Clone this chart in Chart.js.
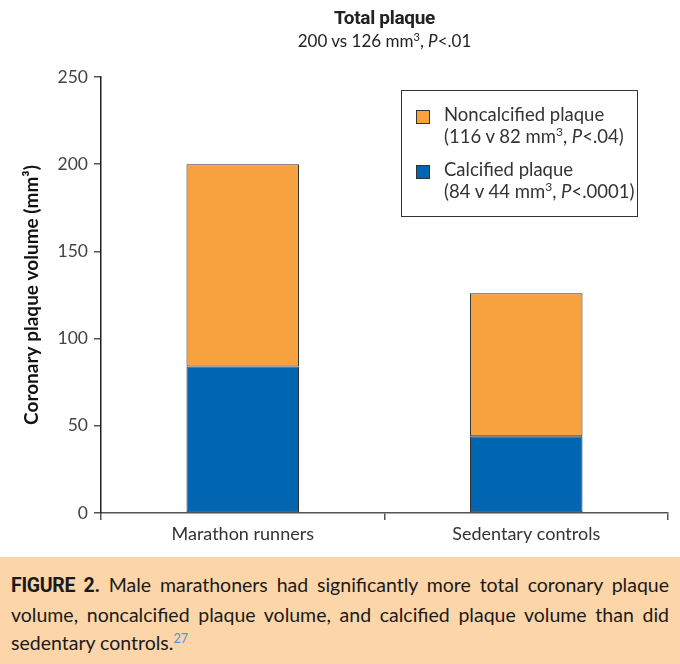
<!DOCTYPE html>
<html>
<head>
<meta charset="utf-8">
<script src="https://cdn.jsdelivr.net/npm/chart.js@4.4.1/dist/chart.umd.min.js"></script>
<style>
  body { margin: 0; background: #fff; }
  #wrap { position: relative; width: 680px; height: 664px; overflow: hidden; font-family: Lato, "Open Sans", sans-serif; color: #222; }
  #chartBox { position: absolute; left: 0; top: 0; width: 680px; height: 557px; }
  .title { position: absolute; left: 101px; width: 567px; text-align: center; }
  #t1 { top: 6px; font-family: Roboto, sans-serif; font-weight: bold; font-size: 19px; letter-spacing: -0.3px; }
  #t2 { top: 30px; font-size: 17px; }
  sup { font-size: 0.65em; line-height: 0; vertical-align: 0.55em; }
  #legend { position: absolute; left: 401px; top: 90px; width: 235px; height: 125px; border: 1.5px solid #333; }
  .item { position: absolute; left: 14px; }
  .swatch { position: absolute; left: 0; top: 6px; width: 12px; height: 12px; border: 1px solid #333; }
  .ltext { margin-left: 28px; font-size: 18.5px; line-height: 21.5px; color: #333; white-space: nowrap; }
  #caption { position: absolute; left: 0; top: 557px; width: 680px; height: 107px; background: #fcd5a9; }
  #caption p { margin: 0; padding: 14px 11px 0 11px; font-size: 19.5px; line-height: 28.5px; text-align: justify; color: #1a1a1a; }
  #caption b { font-family: Roboto, sans-serif; letter-spacing: -0.3px; }
  #caption sup { color: #4a9cc4; }
</style>
</head>
<body>
<div id="wrap">
  <div id="chartBox"><canvas id="c" width="680" height="557"></canvas></div>
  <div class="title" id="t1">Total plaque</div>
  <div class="title" id="t2">200 vs 126 mm<sup>3</sup>, <i>P</i>&lt;.01</div>
  <div id="legend"></div>
  <div id="caption"><p><b>FIGURE 2.</b> Male marathoners had significantly more total coronary plaque volume, noncalcified plaque volume, and calcified plaque volume than did sedentary controls.<sup>27</sup></p></div>
</div>
<script>
  const categories = ["Marathon runners", "Sedentary controls"];
  const calcified = [84, 44];
  const noncalcified = [116, 82];
  const seriesNames = ["Calcified plaque", "Noncalcified plaque"];
  const legendNotes = ['(84 v 44 mm<sup>3</sup>, <i>P</i>&lt;.0001)', '(116 v 82 mm<sup>3</sup>, <i>P</i>&lt;.04)'];
  const colors = ["#0066b2", "#f7a23e"];
  const yMax = 250;
  const yStep = 50;

  // legend: noncalcified first, then calcified
  const legend = document.getElementById("legend");
  [1, 0].forEach((i, row) => {
    const div = document.createElement("div");
    div.className = "item";
    div.style.top = (13 + row * 55) + "px";
    div.innerHTML = `<span class="swatch" style="background:${colors[i]}"></span>
      <div class="ltext">${seriesNames[i]}<br>${legendNotes[i]}</div>`;
    legend.appendChild(div);
  });

  const tickFont = { family: "Lato", size: 17.5 };

  new Chart(document.getElementById("c"), {
    type: "bar",
    data: {
      labels: categories,
      datasets: [
        { label: seriesNames[0], data: calcified, backgroundColor: colors[0], borderColor: "#333", borderWidth: 1, borderSkipped: false },
        { label: seriesNames[1], data: noncalcified, backgroundColor: colors[1], borderColor: "#333", borderWidth: 1, borderSkipped: false },
      ],
    },
    options: {
      responsive: false,
      animation: false,
      datasets: { bar: { barPercentage: 0.397, categoryPercentage: 1 } },
      layout: { padding: { top: 77, right: 12, left: 0, bottom: 0 } },
      scales: {
        x: {
          stacked: true,
          grid: { display: true, drawOnChartArea: false, drawTicks: true, tickLength: 7, color: "#555", lineWidth: 1.5, offset: true },
          border: { display: true, color: "#555", width: 1.5 },
          ticks: { color: "#333", font: { family: "Lato", size: 18 }, padding: 3 },
          afterFit: (s) => { s.height = 44; },
        },
        y: {
          stacked: true,
          min: 0,
          max: yMax,
          grid: { display: true, drawOnChartArea: false, drawTicks: true, tickLength: 7, color: "#555", lineWidth: 1.5 },
          border: { display: true, color: "#222", width: 1.5 },
          ticks: { stepSize: yStep, color: "#444", font: tickFont, padding: 6 },
          title: {
            display: true,
            text: "Coronary plaque volume (mm³)",
            color: "#111",
            font: { family: "Lato", size: 19, weight: "bold" },
            padding: { top: 20, bottom: 0 },
          },
          afterFit: (s) => { s.width = 101; },
        },
      },
      plugins: {
        legend: { display: false },
        tooltip: { enabled: false },
      },
    },
  });
</script>
</body>
</html>
